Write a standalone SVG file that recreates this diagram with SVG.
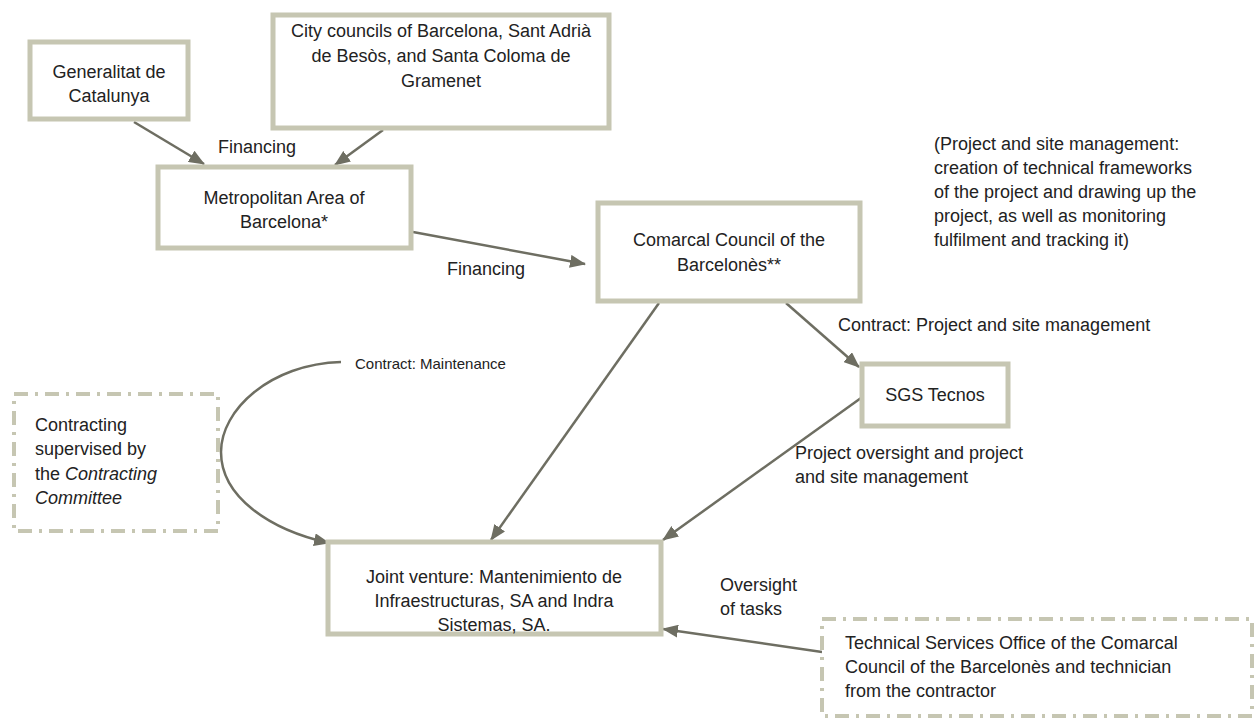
<svg xmlns="http://www.w3.org/2000/svg" width="1255" height="720" viewBox="0 0 1255 720">
<style>
  .box { fill: #ffffff; stroke: #c6c6b2; stroke-width: 5; }
  .dbox { fill: #ffffff; stroke: #c6c6b2; stroke-width: 4; stroke-dasharray: 14 7 3 7; }
  .t { font-family: "Liberation Sans", Arial, sans-serif; font-size: 18px; fill: #222222; }
  .c { text-anchor: middle; }
  .sm { font-size: 15px; }
  .conn { fill: none; stroke: #6e6e62; stroke-width: 2.5; }
</style>
<defs>
  <marker id="ah" viewBox="0 0 16 13" refX="15" refY="6.5" markerWidth="16" markerHeight="13" orient="auto" markerUnits="userSpaceOnUse">
    <path d="M0,0 L16,6.5 L0,13 z" fill="#6e6e62"/>
  </marker>
</defs>
<rect width="1255" height="720" fill="#ffffff"/>

<g id="connectors">
  <line class="conn" x1="134" y1="122" x2="204" y2="164" marker-end="url(#ah)"/>
  <line class="conn" x1="383" y1="130" x2="335" y2="165" marker-end="url(#ah)"/>
  <line class="conn" x1="413" y1="232" x2="585" y2="264" marker-end="url(#ah)"/>
  <line class="conn" x1="659" y1="303" x2="491" y2="540" marker-end="url(#ah)"/>
  <line class="conn" x1="786" y1="303" x2="859" y2="367" marker-end="url(#ah)"/>
  <line class="conn" x1="861" y1="398" x2="663" y2="540" marker-end="url(#ah)"/>
  <line class="conn" x1="822" y1="652" x2="663" y2="629" marker-end="url(#ah)"/>
  <path class="conn" d="M341,362 C270,364 221,410 221,452 C221,497 270,530 329,543" marker-end="url(#ah)"/>
</g>

<g id="generalitat">
  <rect class="box" x="30" y="42" width="158" height="77"/>
  <text class="t c" x="109" y="78">Generalitat de</text>
  <text class="t c" x="109" y="102">Catalunya</text>
</g>

<g id="city-councils">
  <rect class="box" x="273" y="15" width="336" height="113"/>
  <text class="t c" x="441" y="37">City councils of Barcelona, Sant Adrià</text>
  <text class="t c" x="441" y="62">de Besòs, and Santa Coloma de</text>
  <text class="t c" x="441" y="87">Gramenet</text>
</g>

<g id="label-financing-1">
  <text class="t" x="218" y="153">Financing</text>
</g>

<g id="metropolitan">
  <rect class="box" x="158" y="167" width="253" height="81"/>
  <text class="t c" x="284" y="204">Metropolitan Area of</text>
  <text class="t c" x="284" y="228">Barcelona*</text>
</g>

<g id="label-financing-2">
  <text class="t" x="447" y="275">Financing</text>
</g>

<g id="comarcal">
  <rect class="box" x="598" y="203" width="262" height="98"/>
  <text class="t c" x="729" y="246">Comarcal Council of the</text>
  <text class="t c" x="729" y="271">Barcelonès**</text>
</g>

<g id="note-project">
  <text class="t" x="934" y="150">(Project and site management:</text>
  <text class="t" x="934" y="174">creation of technical frameworks</text>
  <text class="t" x="934" y="198">of the project and drawing up the</text>
  <text class="t" x="934" y="222">project, as well as monitoring</text>
  <text class="t" x="934" y="246">fulfilment and tracking it)</text>
</g>

<g id="label-contract-project">
  <text class="t" x="838" y="331">Contract: Project and site management</text>
</g>

<g id="sgs-tecnos">
  <rect class="box" x="862" y="364" width="146" height="62"/>
  <text class="t c" x="935" y="401">SGS Tecnos</text>
</g>

<g id="label-oversight-sgs">
  <text class="t" x="795" y="459">Project oversight and project</text>
  <text class="t" x="795" y="483">and site management</text>
</g>

<g id="label-contract-maintenance">
  <text class="t sm" x="355" y="369">Contract: Maintenance</text>
</g>

<g id="contracting-committee">
  <rect class="dbox" x="14" y="394" width="204" height="137"/>
  <text class="t" x="35" y="431">Contracting</text>
  <text class="t" x="35" y="455">supervised by</text>
  <text class="t" x="35" y="480">the <tspan font-style="italic">Contracting</tspan></text>
  <text class="t" x="35" y="504" font-style="italic">Committee</text>
</g>

<g id="joint-venture">
  <rect class="box" x="328" y="542" width="333" height="92"/>
  <text class="t c" x="494" y="583">Joint venture: Mantenimiento de</text>
  <text class="t c" x="494" y="607">Infraestructuras, SA and Indra</text>
  <text class="t c" x="494" y="631">Sistemas, SA.</text>
</g>

<g id="label-oversight-tasks">
  <text class="t" x="720" y="591">Oversight</text>
  <text class="t" x="720" y="615">of tasks</text>
</g>

<g id="technical-services">
  <rect class="dbox" x="822" y="619" width="430" height="97"/>
  <text class="t" x="845" y="649">Technical Services Office of the Comarcal</text>
  <text class="t" x="845" y="673">Council of the Barcelonès and technician</text>
  <text class="t" x="845" y="697">from the contractor</text>
</g>
</svg>
